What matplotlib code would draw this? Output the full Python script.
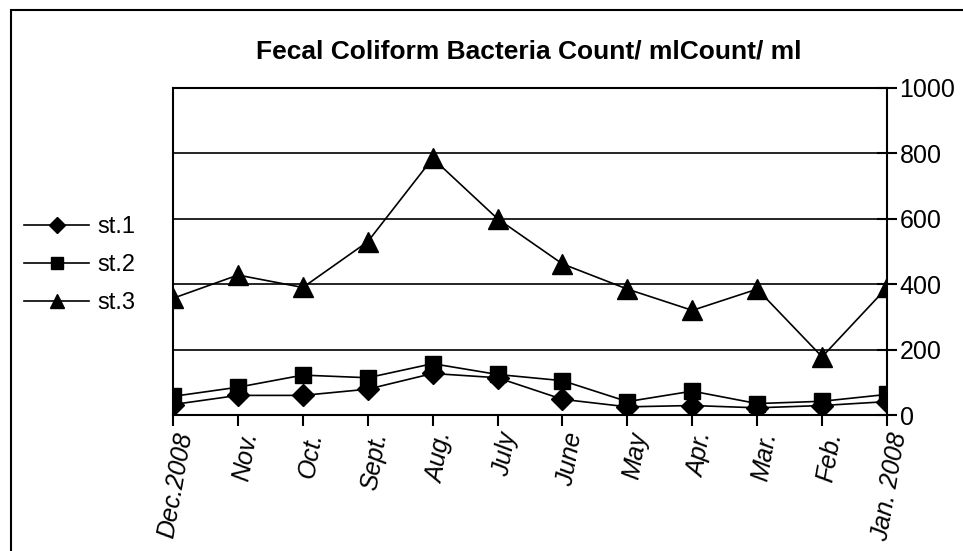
import matplotlib
import matplotlib.pyplot as plt
from matplotlib.patches import Rectangle

matplotlib.use('Agg')
plt.rcParams['font.family'] = ['Liberation Sans', 'DejaVu Sans']

months = ["Dec.2008", "Nov.", "Oct.", "Sept.", "Aug.", "July", "June",
          "May", "Apr.", "Mar.", "Feb.", "Jan. 2008"]
st1 = [32, 60, 60, 79, 127, 114, 48, 25, 29, 22, 29, 41]
st2 = [57, 85, 122, 114, 157, 124, 105, 41, 73, 35, 42, 63]
st3 = [357, 428, 390, 530, 785, 600, 462, 385, 320, 385, 178, 390]

fig = plt.figure(figsize=(9.63, 5.51), dpi=100)
ax = fig.add_axes([0.1797, 0.2468, 0.7414, 0.5935])

x = list(range(len(months)))
ax.plot(x, st1, color='black', lw=1.2, marker='D', ms=11, label='st.1')
ax.plot(x, st2, color='black', lw=1.2, marker='s', ms=12, label='st.2')
ax.plot(x, st3, color='black', lw=1.2, marker='^', ms=14, label='st.3')

ax.set_xlim(0, 11)
ax.set_ylim(0, 1000)
ax.set_yticks(range(0, 1001, 200))
ax.yaxis.tick_right()
ax.tick_params(axis='y', direction='inout', length=14, width=1.5, labelsize=18, pad=2)
ax.tick_params(axis='x', direction='out', length=8, width=1.5, pad=3)
ax.set_xticks(x)
ax.set_xticklabels(months, rotation=80, ha='right', va='top',
                   rotation_mode='anchor', fontsize=18, style='italic')
ax.grid(axis='y', color='black', lw=1.2)
for s in ax.spines.values():
    s.set_linewidth(1.5)

fig.text(0.549, 0.906, "Fecal Coliform Bacteria Count/ mlCount/ ml",
         ha='center', va='center', fontsize=19, fontweight='bold')

fig.legend(loc='center left', bbox_to_anchor=(0.003, 0.519), frameon=False,
           fontsize=17, handlelength=2.75, labelspacing=0.67, handletextpad=0.35,
           markerscale=0.75)

# outer chart border, cut off on the right and bottom like the original
fig.patches.append(Rectangle((0.011, -0.1), 1.1, 1.082, transform=fig.transFigure,
                             fill=False, edgecolor='black', lw=1.5))

plt.savefig('out.png', dpi=100)
plt.close()
